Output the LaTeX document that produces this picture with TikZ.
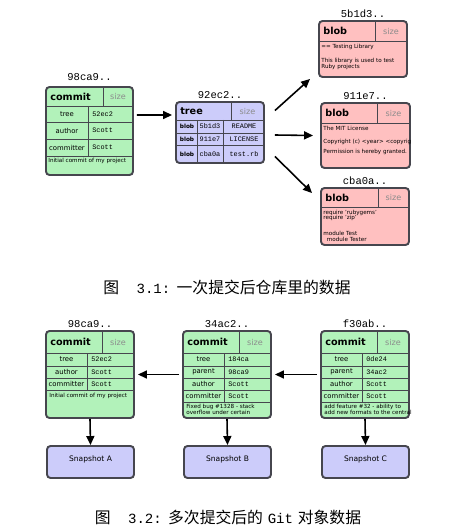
\documentclass[tikz,border=0pt]{standalone}
\usepackage{fontspec}
\setmainfont{DejaVu Sans}
\setmonofont{Liberation Mono}
\newfontfamily\cjk{Noto Sans CJK SC}
\usepackage{tikz}
\usetikzlibrary{positioning, arrows.meta, fit}

\definecolor{CommitGreen}{RGB}{178,242,186}
\definecolor{TreeLilac}{RGB}{204,204,250}
\definecolor{BlobPink}{RGB}{255,192,192}
\definecolor{EdgeGray}{RGB}{70,70,78}
\definecolor{SizeGray}{RGB}{140,140,140}

\tikzset{
  objbox/.style={draw=EdgeGray, line width=1.1pt, rounded corners=2pt, inner sep=0pt},
  cell/.style={draw=EdgeGray, line width=0.5pt},
  hashlabel/.style={font=\ttfamily\fontsize{6}{7}\selectfont, inner sep=1pt},
  headtext/.style={font=\bfseries\fontsize{5.5}{6}\selectfont, anchor=west, inner sep=0pt},
  sizetext/.style={font=\fontsize{4.6}{5}\selectfont, text=SizeGray, inner sep=0pt},
  keytext/.style={font=\fontsize{3.9}{4}\selectfont, inner sep=0pt},
  valtext/.style={font=\ttfamily\fontsize{3.9}{4}\selectfont, anchor=west, inner sep=0pt},
  treekey/.style={font=\bfseries\fontsize{3.3}{4}\selectfont, inner sep=0pt},
  treeval/.style={font=\ttfamily\fontsize{3.9}{4}\selectfont, inner sep=0pt},
  msgtext/.style={font=\fontsize{3.2}{3.6}\selectfont, anchor=west, inner sep=0pt},
  snapbox/.style={objbox, fill=TreeLilac, font=\fontsize{4.3}{5}\selectfont},
  link/.style={-{Triangle[length=1.8mm, width=1.6mm]}, line width=0.9pt},
  caption/.style={font=\fontsize{9}{10}\selectfont, inner sep=0pt},
}

\begin{document}
\begin{tikzpicture}[x=0.02cm, y=-0.02cm]
\useasboundingbox (0,0) rectangle (469,530);

% ---- one commit ----
\node[objbox, fill=CommitGreen, fit={(46,87) (133,175)}] (commitT) {};
\node[hashlabel, above=2pt of commitT] (commitT-id) {98ca9..};
\draw[cell] (46,106) -- (133,106) (103,87) -- (103,106) (88,106) -- (88,156);
\foreach \y in {122,139,156} \draw[cell] (46,\y) -- (133,\y);
\node[headtext] (commitT-type) at (50,96.5) {commit};
\node[sizetext] (commitT-size) at (118,96.5) {size};
\foreach \k/\v/\y [count=\i] in {tree/52ec2/114, author/Scott/130.5, committer/Scott/147.5}{
  \node[keytext] (commitT-k\i) at (67,\y) {\k};
  \node[valtext] (commitT-v\i) at (92,\y) {\v};
}
\node[msgtext] (commitT-msg) at (48,161) {Initial commit of my project};

% tree
\node[objbox, fill=TreeLilac, fit={(176,102) (264,163)}] (treeT) {};
\node[hashlabel, above=0pt of treeT] (treeT-id) {92ec2..};
\draw[cell] (176,120) -- (264,120) (231,102) -- (231,120) (197,120) -- (197,163) (223,120) -- (223,163);
\foreach \y in {133,145} \draw[cell] (176,\y) -- (264,\y);
\node[headtext] (treeT-type) at (180,111) {tree};
\node[sizetext] (treeT-size) at (247.5,111) {size};
\foreach \h/\f/\y [count=\i] in {5b1d3/README/126.5, 911e7/LICENSE/139, cba0a/test.rb/154}{
  \node[treekey] (treeT-k\i) at (187,\y) {blob};
  \node[treeval] (treeT-h\i) at (210,\y) {\h};
  \node[treeval] (treeT-f\i) at (244,\y) {\f};
}

% blobs
\node[objbox, fill=BlobPink, fit={(319,21) (407,77)}] (blobA) {};
\node[hashlabel, above=0pt of blobA] (blobA-id) {5b1d3..};
\draw[cell] (319,41) -- (407,41) (375,21) -- (375,41);
\node[headtext] (blobA-type) at (323,31) {blob};
\node[sizetext] (blobA-size) at (391,31) {size};
\foreach \t/\y [count=\i] in {== Testing Library/47, This library is used to test/60.5, Ruby projects/66.5}
  \node[msgtext] (blobA-l\i) at (321,\y) {\t};

\node[objbox, fill=BlobPink, fit={(321,103) (410,168)}] (blobB) {};
\node[hashlabel, above=0pt of blobB] (blobB-id) {911e7..};
\draw[cell] (321,123) -- (410,123) (377,103) -- (377,123);
\node[headtext] (blobB-type) at (325,113) {blob};
\node[sizetext] (blobB-size) at (393.5,113) {size};
\begin{scope}
  \clip (blobB.south west) rectangle (blobB.north east);
  \foreach \t/\y [count=\i] in {The MIT License/128.5, Copyright (c) <year> <copyright holders>/142, Permission is hereby granted./152}
    \node[msgtext] (blobB-l\i) at (323,\y) {\t};
\end{scope}

\node[objbox, fill=BlobPink, fit={(321,188) (409,245)}] (blobC) {};
\node[hashlabel, above=0pt of blobC] (blobC-id) {cba0a..};
\draw[cell] (321,207) -- (409,207) (378,188) -- (378,207);
\node[headtext] (blobC-type) at (325,197.5) {blob};
\node[sizetext] (blobC-size) at (393.5,197.5) {size};
\foreach \t/\y [count=\i] in {require 'rubygems'/212.5, require 'zip'/218, module Test/233.5, \ \ module Tester/239.5}
  \node[msgtext] (blobC-l\i) at (323,\y) {\t};

\draw[link] ([shift={(3,-16)}]commitT.east) -- ([shift={(-3,-17.5)}]treeT.west);
\draw[link] ([shift={(10,-22)}]treeT.east) -- ([shift={(-8,1)}]blobA.south west);
\draw[link] ([shift={(10,2.5)}]treeT.east) -- ([shift={(-7,0)}]blobB.west);
\draw[link] ([shift={(10,24)}]treeT.east) -- ([shift={(-8,6)}]blobC.north west);

\node[caption] (cap1) at (227,287) {{\cjk 图}\hspace{1.1em}{\ttfamily\fontsize{8}{9}\selectfont 3.1:}\hspace{0.4em}{\cjk 一次提交后仓库里的数据}};

% ---- three commits ----
\foreach \n/\x/\id in {A/46/98ca9, B/183/34ac2, C/321/f30ab}{
  \node[objbox, fill=CommitGreen, fit={(\x,331) (\x+88,418)}] (commit\n) {};
  \node[hashlabel, above=0pt of commit\n] (commit\n-id) {\id..};
  \draw[cell] (\x,353) -- (\x+88,353) (\x+56,331) -- (\x+56,353);
  \node[headtext] (commit\n-type) at (\x+4,342) {commit};
  \node[sizetext] (commit\n-size) at (\x+72,342) {size};
  \node[snapbox, fit={(\x+1,446) (\x+88,478)}] (snap\n) {Snapshot \n};
  \draw[link] (commit\n.south) -- (snap\n.north);
}
\draw[cell] (87,353) -- (87,390) (224,353) -- (224,402) (362,353) -- (362,402);
\foreach \y in {366,378,390} \draw[cell] (46,\y) -- (134,\y);
\foreach \y in {366,378,390,402} \draw[cell] (183,\y) -- (271,\y) (321,\y) -- (409,\y);

\foreach \k/\v/\y [count=\i] in {tree/52ec2/359.5, author/Scott/372, committer/Scott/384}{
  \node[keytext] (commitA-k\i) at (66.5,\y) {\k};
  \node[valtext] (commitA-v\i) at (91,\y) {\v};
}
\node[msgtext] (commitA-msg) at (49,395.5) {Initial commit of my project};

\foreach \k/\v/\y [count=\i] in {tree/184ca/359.5, parent/98ca9/372, author/Scott/384, committer/Scott/396}{
  \node[keytext] (commitB-k\i) at (203.5,\y) {\k};
  \node[valtext] (commitB-v\i) at (228,\y) {\v};
}
\node[msgtext] (commitB-m1) at (186,406.5) {Fixed bug \#1328 - stack};
\node[msgtext] (commitB-m2) at (186,412.5) {overflow under certain};

\foreach \k/\v/\y [count=\i] in {tree/0de24/359.5, parent/34ac2/372, author/Scott/384, committer/Scott/396}{
  \node[keytext] (commitC-k\i) at (341.5,\y) {\k};
  \node[valtext] (commitC-v\i) at (366,\y) {\v};
}
\node[msgtext] (commitC-m1) at (324,406.5) {add feature \#32 - ability to};
\node[msgtext] (commitC-m2) at (324,412.5) {add new formats to the central};

\draw[link] ([shift={(-3,0)}]commitB.west) -- ([shift={(3,0)}]commitA.east);
\draw[link] ([shift={(-3,0)}]commitC.west) -- ([shift={(3,0)}]commitB.east);

\node[caption] (cap2) at (228,517) {{\cjk 图}\hspace{1.1em}{\ttfamily\fontsize{8}{9}\selectfont 3.2:}\hspace{0.4em}{\cjk 多次提交后的}\hspace{0.3em}{\ttfamily\fontsize{8}{9}\selectfont Git}\hspace{0.3em}{\cjk 对象数据}};
\end{tikzpicture}
\end{document}
